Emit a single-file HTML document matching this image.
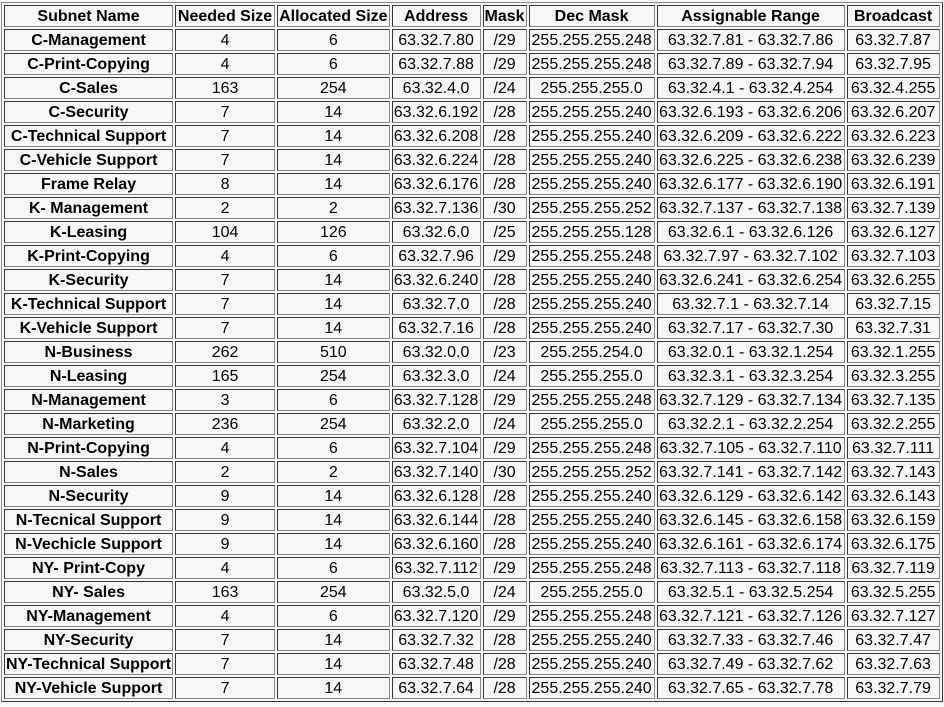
<!DOCTYPE html>
<html><head><meta charset="utf-8">
<style>
html,body{margin:0;padding:0;background:#f7f7f7;width:944px;height:707px;overflow:hidden}
table{position:absolute;left:1px;top:2px;border:1px outset #888;border-collapse:separate;border-spacing:2px;table-layout:fixed;font-family:"Liberation Sans",Arial,sans-serif;font-size:16px;color:#000;background:#f7f7f7}
td,th{box-sizing:border-box;height:22px;padding:1px 1px 0 1px;border:1px inset #888;text-align:center;white-space:nowrap;overflow:hidden;line-height:19px}
th{font-weight:bold}
td.n{font-weight:bold}
</style></head><body>
<table id="t">
<colgroup><col style="width:169px"><col style="width:100px"><col style="width:112px"><col style="width:89px"><col style="width:44px"><col style="width:126px"><col style="width:188px"><col style="width:93px"></colgroup>
<thead><tr>
<th>Subnet Name</th>
<th>Needed Size</th>
<th>Allocated Size</th>
<th>Address</th>
<th>Mask</th>
<th>Dec Mask</th>
<th>Assignable Range</th>
<th>Broadcast</th>
</tr></thead><tbody id="b"></tbody></table>
<script>
const rows=[
["C-Management","4","6","63.32.7.80","/29","255.255.255.248","63.32.7.81 - 63.32.7.86","63.32.7.87"],
["C-Print-Copying","4","6","63.32.7.88","/29","255.255.255.248","63.32.7.89 - 63.32.7.94","63.32.7.95"],
["C-Sales","163","254","63.32.4.0","/24","255.255.255.0","63.32.4.1 - 63.32.4.254","63.32.4.255"],
["C-Security","7","14","63.32.6.192","/28","255.255.255.240","63.32.6.193 - 63.32.6.206","63.32.6.207"],
["C-Technical Support","7","14","63.32.6.208","/28","255.255.255.240","63.32.6.209 - 63.32.6.222","63.32.6.223"],
["C-Vehicle Support","7","14","63.32.6.224","/28","255.255.255.240","63.32.6.225 - 63.32.6.238","63.32.6.239"],
["Frame Relay","8","14","63.32.6.176","/28","255.255.255.240","63.32.6.177 - 63.32.6.190","63.32.6.191"],
["K- Management","2","2","63.32.7.136","/30","255.255.255.252","63.32.7.137 - 63.32.7.138","63.32.7.139"],
["K-Leasing","104","126","63.32.6.0","/25","255.255.255.128","63.32.6.1 - 63.32.6.126","63.32.6.127"],
["K-Print-Copying","4","6","63.32.7.96","/29","255.255.255.248","63.32.7.97 - 63.32.7.102","63.32.7.103"],
["K-Security","7","14","63.32.6.240","/28","255.255.255.240","63.32.6.241 - 63.32.6.254","63.32.6.255"],
["K-Technical Support","7","14","63.32.7.0","/28","255.255.255.240","63.32.7.1 - 63.32.7.14","63.32.7.15"],
["K-Vehicle Support","7","14","63.32.7.16","/28","255.255.255.240","63.32.7.17 - 63.32.7.30","63.32.7.31"],
["N-Business","262","510","63.32.0.0","/23","255.255.254.0","63.32.0.1 - 63.32.1.254","63.32.1.255"],
["N-Leasing","165","254","63.32.3.0","/24","255.255.255.0","63.32.3.1 - 63.32.3.254","63.32.3.255"],
["N-Management","3","6","63.32.7.128","/29","255.255.255.248","63.32.7.129 - 63.32.7.134","63.32.7.135"],
["N-Marketing","236","254","63.32.2.0","/24","255.255.255.0","63.32.2.1 - 63.32.2.254","63.32.2.255"],
["N-Print-Copying","4","6","63.32.7.104","/29","255.255.255.248","63.32.7.105 - 63.32.7.110","63.32.7.111"],
["N-Sales","2","2","63.32.7.140","/30","255.255.255.252","63.32.7.141 - 63.32.7.142","63.32.7.143"],
["N-Security","9","14","63.32.6.128","/28","255.255.255.240","63.32.6.129 - 63.32.6.142","63.32.6.143"],
["N-Tecnical Support","9","14","63.32.6.144","/28","255.255.255.240","63.32.6.145 - 63.32.6.158","63.32.6.159"],
["N-Vechicle Support","9","14","63.32.6.160","/28","255.255.255.240","63.32.6.161 - 63.32.6.174","63.32.6.175"],
["NY- Print-Copy","4","6","63.32.7.112","/29","255.255.255.248","63.32.7.113 - 63.32.7.118","63.32.7.119"],
["NY- Sales","163","254","63.32.5.0","/24","255.255.255.0","63.32.5.1 - 63.32.5.254","63.32.5.255"],
["NY-Management","4","6","63.32.7.120","/29","255.255.255.248","63.32.7.121 - 63.32.7.126","63.32.7.127"],
["NY-Security","7","14","63.32.7.32","/28","255.255.255.240","63.32.7.33 - 63.32.7.46","63.32.7.47"],
["NY-Technical Support","7","14","63.32.7.48","/28","255.255.255.240","63.32.7.49 - 63.32.7.62","63.32.7.63"],
["NY-Vehicle Support","7","14","63.32.7.64","/28","255.255.255.240","63.32.7.65 - 63.32.7.78","63.32.7.79"]
];
const cols=["subnet-name","needed-size","allocated-size","address","mask","dec-mask","assignable-range","broadcast"];
const b=document.getElementById('b');
rows.forEach(r=>{
  const tr=document.createElement('tr');
  
  
  r.forEach((v,i)=>{
    const td=document.createElement('td');
    td.textContent=v;
    if(i===0)td.className='n';
    
    
    tr.appendChild(td);
  });
  b.appendChild(tr);
});
</script>
</body></html>
